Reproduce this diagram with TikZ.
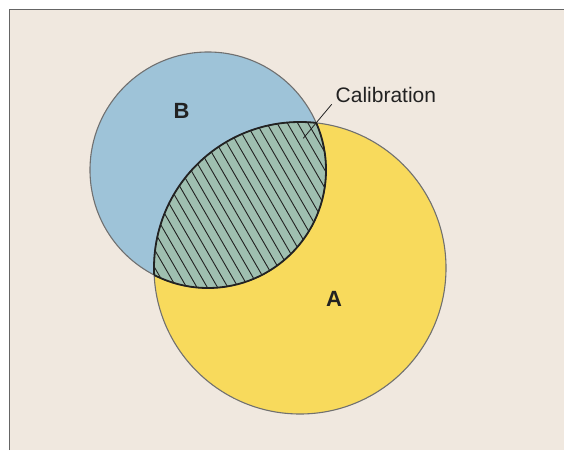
\documentclass[tikz,border=0pt]{standalone}
\usepackage{fontspec}
\setmainfont{Liberation Sans}
\usepackage{tikz}
\usepackage{xcolor}
\usetikzlibrary{calc,positioning}
\definecolor{paper}{HTML}{F0E8DF}
\definecolor{setA}{HTML}{F8DA5C}
\definecolor{setB}{HTML}{9EC3D8}
\definecolor{overlap}{HTML}{9FBFB0}
\definecolor{rim}{HTML}{707070}
\definecolor{ink}{HTML}{222222}
\tikzset{%
	frame/.style    = {draw=rim!90!black, line width=1.2pt},
	setline/.style  = {draw=rim, line width=1.1pt},
	lensline/.style = {draw=ink, line width=1.8pt},
	hatch/.style    = {draw=ink, line width=0.9pt},
	setlabel/.style = {font=\fontsize{22}{22}\selectfont\bfseries, text=ink, inner sep=0pt},
	callout/.style  = {font=\fontsize{21}{21}\selectfont, text=ink, inner sep=0pt},
	leader/.style   = {draw=ink, line width=0.8pt},
}
\newcommand{\radA}{146pt}
\newcommand{\radB}{118pt}

\begin{document}
\begin{tikzpicture}[x=1pt,y=1pt]
	\useasboundingbox (0,0) rectangle (564,450);
	\fill[white] (0,0) rectangle (564,450);
	\fill[paper] (9.5,0) rectangle (564,440.5);
	\draw[frame] (9.5,0) |- (564,440.5);
	
	\coordinate (cA) at (300,182);
	\coordinate (cB) at (208,280);
	\fill[setA] (cA) circle (\radA);
	\fill[setB] (cB) circle (\radB);
	
	\begin{scope}
		\clip (cA) circle (\radA);
		\clip (cB) circle (\radB);
		\fill[overlap] (cB) circle (\radB);
		\foreach \k in {0,...,29} \draw[hatch] (40+\k*10.3,345) -- ++(107,-185);
	\end{scope}
	
	\draw[setline] (cA) circle (\radA);
	\draw[setline] (cB) circle (\radB);
	\begin{scope}
		\clip (cA) circle (\radA);
		\draw[lensline] (cB) circle (\radB);
	\end{scope}
	\begin{scope}
		\clip (cB) circle (\radB);
		\draw[lensline] (cA) circle (\radA);
	\end{scope}
	
	\node[setlabel] (labB) at (181.5,339) {B};
	\node[setlabel] (labA) at (334,151) {A};
	\node[callout, anchor=base west] (calib) at (335.5,347.7) {Calibration};
	\coordinate (calibfoot) at (303.3,311.7);
	\draw[leader] ($(calib.base west)+(-3.8,-2)$) -- (calibfoot);
\end{tikzpicture}
\end{document}
